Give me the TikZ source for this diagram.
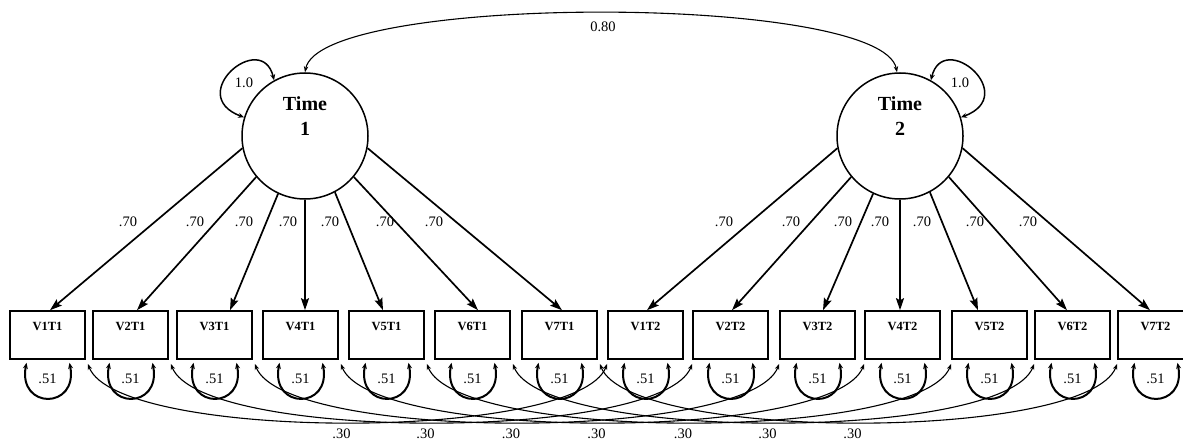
\documentclass[tikz,border=0pt]{standalone}
\usepackage{fontspec}
\setmainfont{Liberation Serif}
\usetikzlibrary{arrows.meta,calc}
\begin{document}
\begin{tikzpicture}[x=1pt,y=1pt,
  box/.style={draw, line width=1.6pt, minimum width=75pt, minimum height=48pt, inner sep=0pt},
  boxtxt/.style={font=\fontsize{12.5}{14}\selectfont\bfseries, inner sep=0pt},
  latent/.style={draw, circle, line width=1.5pt, minimum size=126pt, inner sep=0pt},
  lattxt/.style={font=\fontsize{20}{25}\selectfont\bfseries, align=center, inner sep=0pt},
  num/.style={font=\fontsize{14.5}{16}\selectfont, inner sep=0pt},
  load/.style={line width=1.7pt, -{Stealth[length=12pt,width=8pt,inset=2pt]}},
  resid/.style={line width=2pt, {Stealth[length=6pt,width=5pt]}-{Stealth[length=6pt,width=5pt]}},
  selfl/.style={line width=1.5pt, {Stealth[length=6pt,width=5pt]}-{Stealth[length=6pt,width=5pt]}},
  cov/.style={line width=1.1pt, {Stealth[length=6pt,width=4.5pt]}-{Stealth[length=6pt,width=4.5pt]}},
]
\useasboundingbox (0,0) rectangle (1183,440);
\clip (0,0) rectangle (1183,440);

% latent variables
\node[latent, label={[lattxt,yshift=19.5pt]center:Time\\1}] (T1) at (305,304) {};
\node[latent, label={[lattxt,yshift=19.5pt]center:Time\\2}] (T2) at (900,304) {};

% observed variables
\foreach \n/\x/\t in {a1/47.5/V1T1, a2/130.5/V2T1, a3/214.5/V3T1, a4/300.5/V4T1,
    a5/386.5/V5T1, a6/472.5/V6T1, a7/559.5/V7T1,
    b1/645.5/V1T2, b2/730.5/V2T2, b3/817.5/V3T2, b4/902.5/V4T2,
    b5/989.5/V5T2, b6/1072.5/V6T2, b7/1155.5/V7T2}{
  \node[box, label={[boxtxt,yshift=9pt]center:\t}] (\n) at (\x,105) {};
  \draw[resid] ([xshift=-21pt,yshift=-3pt]\n.south) .. controls +(-9,-47) and +(9,-47) .. ([xshift=22pt,yshift=-3pt]\n.south);
  \node[num] (r\n) at ([yshift=-19pt]\n.south) {.51};
}

% loadings Time 1
\foreach \ang/\n/\dx/\lx in {191/a1/2.5/128, 220/a2/6.5/195, 245/a3/15.5/244, 270/a4/4.5/288,
    298/a5/-3.5/330, 320/a6/5.5/385, 349/a7/2.5/434}{
  \draw[load] (T1.\ang) -- ([xshift=\dx pt]\n.north);
  \node[num] (l\n) at (\lx,218) {.70};
}
% loadings Time 2
\foreach \ang/\n/\dx/\lx in {191/b1/1.5/724, 220/b2/1.5/791, 245/b3/5.5/843, 270/b4/-2.5/880,
    298/b5/-11.5/922, 320/b6/-5.5/975, 349/b7/-5.5/1028}{
  \draw[load] (T2.\ang) -- ([xshift=\dx pt]\n.north);
  \node[num] (l\n) at (\lx,218) {.70};
}

% variances of latent variables
\draw[selfl] (T1.119) .. controls +(-12.5,51) and +(-59.8,22.6) .. (T1.163);
\node[num] (v1) at (244,357) {1.0};
\draw[selfl] (T2.61) .. controls +(12.5,51) and +(59.8,22.6) .. (T2.17);
\node[num] (v2) at (960,357) {1.0};

% covariance of latent variables
\draw[cov] (T1.north) .. controls +(15,79) and +(-15,79) .. ([xshift=-3pt]T2.north);
\node[num] (c12) at (603,413) {0.80};

% correlated residuals
\foreach \i in {1,...,7}{
  \draw[cov] ([xshift=2pt,yshift=-4pt]a\i.south east) .. controls +(30,-78) and +(-30,-78) .. ([yshift=-4pt]b\i.south west)
    node[num, pos=0.5, below=6pt, xshift=-6pt] (k\i) {.30};
}
\end{tikzpicture}
\end{document}
